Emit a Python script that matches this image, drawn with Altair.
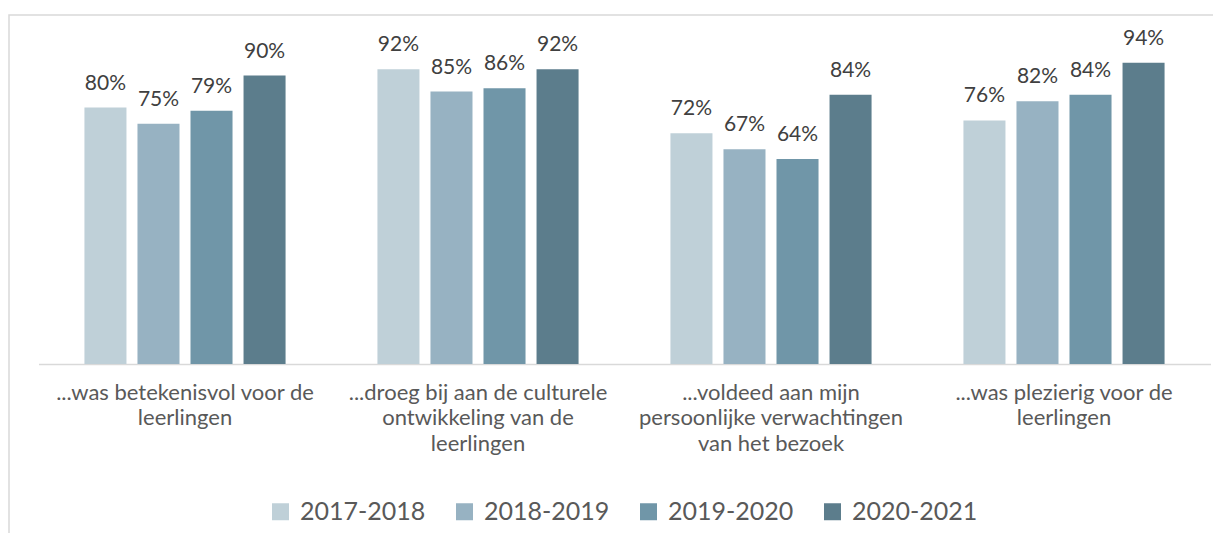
import altair as alt
import pandas as pd

categories = [
    "...was betekenisvol voor de\nleerlingen",
    "...droeg bij aan de culturele\nontwikkeling van de\nleerlingen",
    "...voldeed aan mijn\npersoonlijke verwachtingen\nvan het bezoek",
    "...was plezierig voor de\nleerlingen",
]
years = ["2017-2018", "2018-2019", "2019-2020", "2020-2021"]
v_2017_2018 = [0.80, 0.92, 0.72, 0.76]
v_2018_2019 = [0.75, 0.85, 0.67, 0.82]
v_2019_2020 = [0.79, 0.86, 0.64, 0.84]
v_2020_2021 = [0.90, 0.92, 0.84, 0.94]
colors = ["#BFD0D8", "#97B2C2", "#7096A8", "#5C7D8C"]

series = [v_2017_2018, v_2018_2019, v_2019_2020, v_2020_2021]
rows = []
for y, vals in zip(years, series):
    for c, v in zip(categories, vals):
        rows.append({"cat": c, "year": y, "value": v})
df = pd.DataFrame(rows)

FONT = "Lato"

x_enc = alt.X(
    "cat:N",
    sort=categories,
    title=None,
    scale=alt.Scale(paddingInner=0.276, paddingOuter=0.138),
    axis=alt.Axis(
        labelExpr="split(datum.label, '\\n')",
        labelAngle=0,
        labelFont=FONT,
        labelFontSize=22,
        labelColor="#595959",
        labelLineHeight=25.5,
        labelPadding=18,
        labelBaseline="top",
        ticks=False,
        grid=False,
        domainColor="#D9D9D9",
        domainWidth=1.5,
        labelLimit=400,
    ),
)
xo_enc = alt.XOffset(
    "year:N",
    sort=years,
    scale=alt.Scale(paddingInner=0.2075, paddingOuter=0.10375),
)
y_enc = alt.Y("value:Q", scale=alt.Scale(domain=[0, 1], nice=False), axis=None)

base = alt.Chart(df)

bars = base.mark_bar().encode(
    x=x_enc,
    xOffset=xo_enc,
    y=y_enc,
    color=alt.Color(
        "year:N",
        sort=years,
        scale=alt.Scale(domain=years, range=colors),
        legend=alt.Legend(
            title=None,
            orient="none",
            direction="horizontal",
            legendX=229.5,
            legendY=455.5,
            symbolType="square",
            symbolSize=289,
            symbolStrokeWidth=0,
            labelFont=FONT,
            labelFontSize=25,
            labelColor="#595959",
            labelOffset=7,
            columnPadding=26,
            gridAlign="all",
        ),
    ),
)

labels = base.mark_text(
    baseline="alphabetic", dy=-18, font=FONT, fontSize=21,
    color="#404040"
).encode(
    x=x_enc,
    xOffset=xo_enc,
    y=y_enc,
    text=alt.Text("value:Q", format=".0%"),
)

border = alt.Chart(pd.DataFrame({"a": [0]})).mark_rect(
    fill=None, stroke="#D9D9D9", strokeWidth=1.5
).encode(
    x=alt.value(-29.5),
    x2=alt.value(1400),
    y=alt.value(-28.5),
    y2=alt.value(700),
)

chart = (
    alt.layer(border, bars, labels)
    .properties(
        width=1172,
        height=320.5,
        autosize=alt.AutoSizeParams(type="none"),
        padding={"left": 30.5, "top": 35.5, "right": 2.5, "bottom": 169},
        background="white",
    )
    .configure_view(stroke=None)
)

chart.save("out.html", embed_options={"renderer": "svg", "actions": False})
